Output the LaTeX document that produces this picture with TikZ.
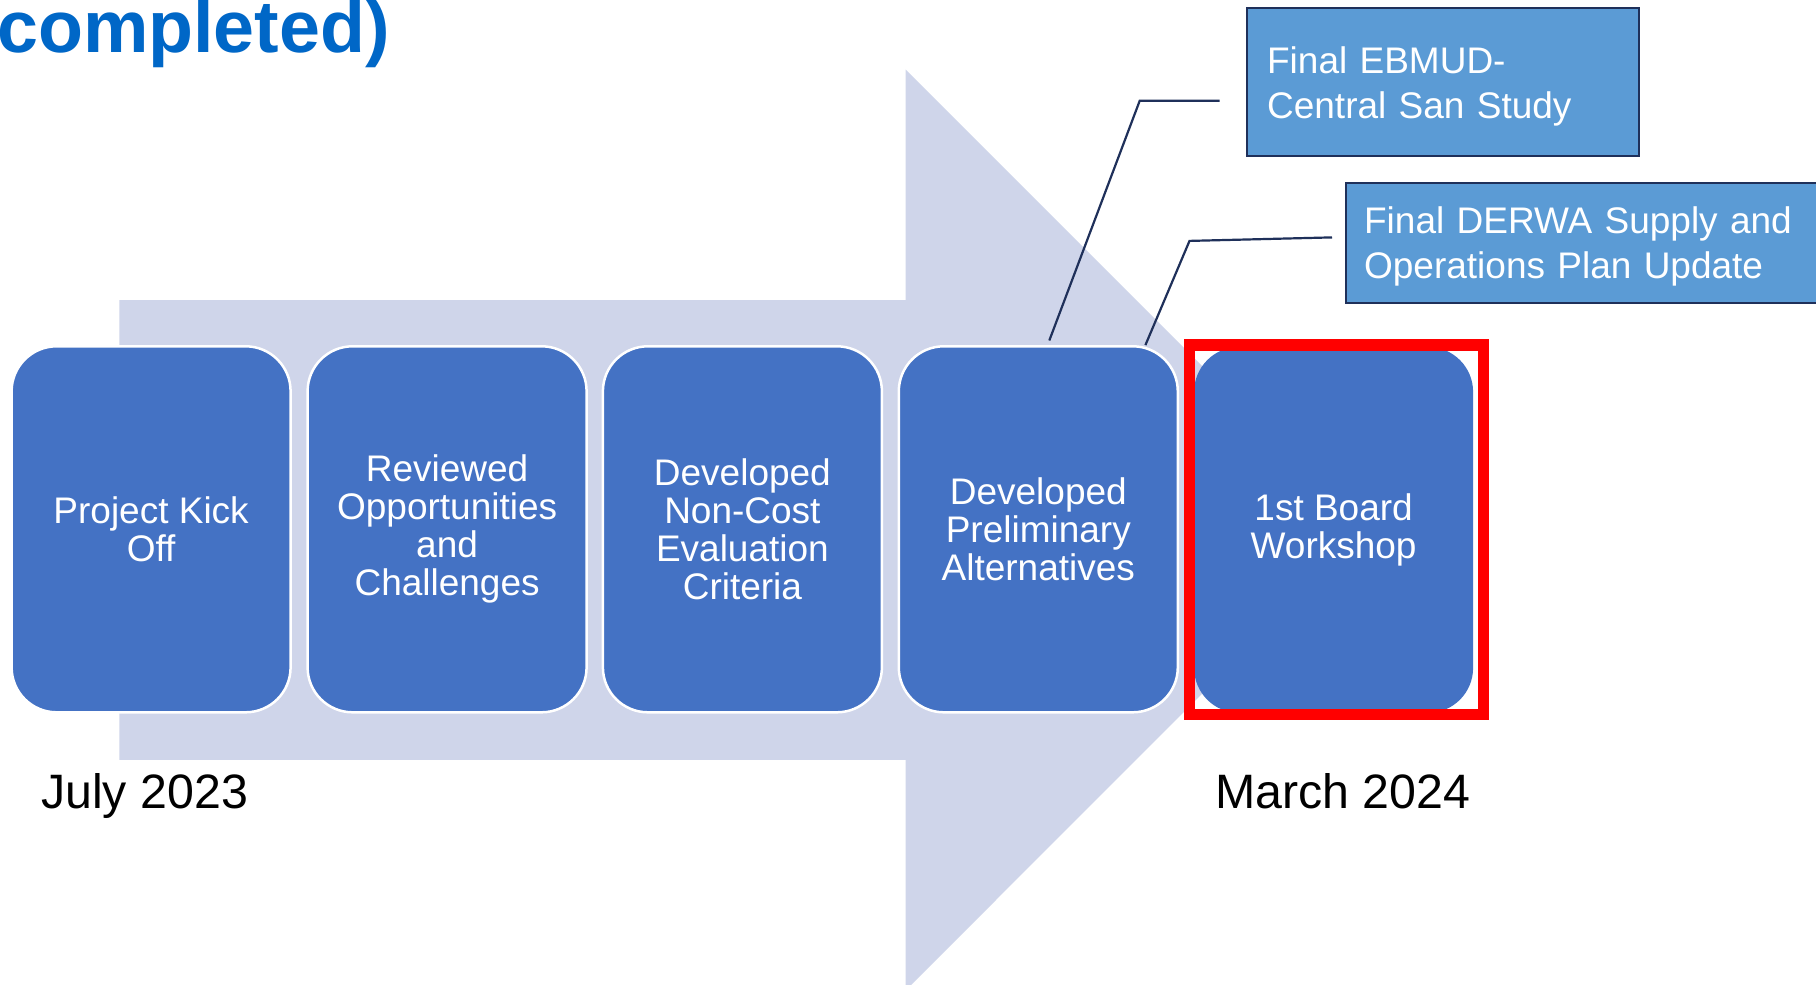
\documentclass[tikz,border=0pt]{standalone}
\usepackage{fontspec}
\setmainfont{Liberation Sans}
\definecolor{arrowc}{RGB}{207,213,234}
\definecolor{boxblue}{RGB}{68,114,196}
\definecolor{callblue}{RGB}{91,155,213}
\definecolor{navy}{RGB}{31,48,90}
\definecolor{titleblue}{RGB}{0,103,199}
\begin{document}
\begin{tikzpicture}[x=1pt,y=-1pt,
  stepbox/.style={rectangle, rounded corners=45pt, fill=boxblue, draw=white, line width=2.5pt,
    minimum width=279pt, minimum height=366pt, inner sep=0pt, text=white, align=center,
    font=\fontsize{37}{38}\selectfont},
  callout/.style={rectangle, fill=callblue, draw=navy, line width=2.2pt, anchor=north west,
    inner xsep=20pt, inner ysep=0pt, text=white, align=left, font=\fontsize{37}{45}\selectfont},
  leader/.style={draw=navy, line width=2.2pt},
  datelabel/.style={font=\fontsize{48.3}{57}\selectfont, anchor=base west, inner sep=0pt, text=black},
  highlight/.style={rectangle, draw=red, line width=11.6pt, inner sep=0pt}
]
\clip (0,0) rectangle (1816,985);
\fill[white] (0,0) rectangle (1816,985);

% big background arrow
\fill[arrowc] (119.3,300) -- (905.7,300) -- (905.7,69.5) -- (1366,529.9) -- (905.7,990.3)
  -- (905.7,759.8) -- (119.3,759.8) -- cycle;

% step boxes
\node[stepbox] (b1) at (151.1,529.3) {Project Kick\\Off};
\node[stepbox] (b2) at (447.1,529.3) {Reviewed\\Opportunities\\and\\Challenges};
\node[stepbox] (b3) at (742.4,529.3) {Developed\\Non-Cost\\Evaluation\\Criteria};
\node[stepbox] (b4) at (1038.3,529.3) {Developed\\Preliminary\\Alternatives};
\node[stepbox, draw=none] (b5) at (1333.6,529.9) {1st Board\\Workshop};

% red highlight
\node[highlight, minimum width=294.1pt, minimum height=369.5pt] (hl) at (1336.5,529.9) {};

% callouts
\node[callout, text width=352pt, text height=36pt, minimum height=148pt] (cA) at (1246,7)
  {Final EBMUD-\\Central San Study};
\node[callout, inner xsep=18pt, text width=456pt, text height=34pt, minimum height=120pt] (cB) at (1345,182)
  {Final DERWA Supply and\\Operations Plan Update};

% leader lines
\coordinate (a0) at (1219.6,100.8);
\coordinate (a1) at (1139.7,100.8);
\coordinate (a2) at (1049.3,340.5);
\coordinate (c0) at (1332,237.4);
\coordinate (c1) at (1189.5,240.9);
\coordinate (c2) at (1145.4,345.1);
\draw[leader] (a0) -- (a1) -- (a2);
\draw[leader] (c0) -- (c1) -- (c2);

% dates
\node[datelabel] (d1) at (41,808) {July 2023};
\node[datelabel] (d2) at (1215,808) {March 2024};

% title fragment
\node[anchor=base west, inner sep=0pt, text=titleblue, font=\fontsize{73.6}{80}\selectfont\bfseries] (title) at (-3,52) {completed)};
\end{tikzpicture}
\end{document}
